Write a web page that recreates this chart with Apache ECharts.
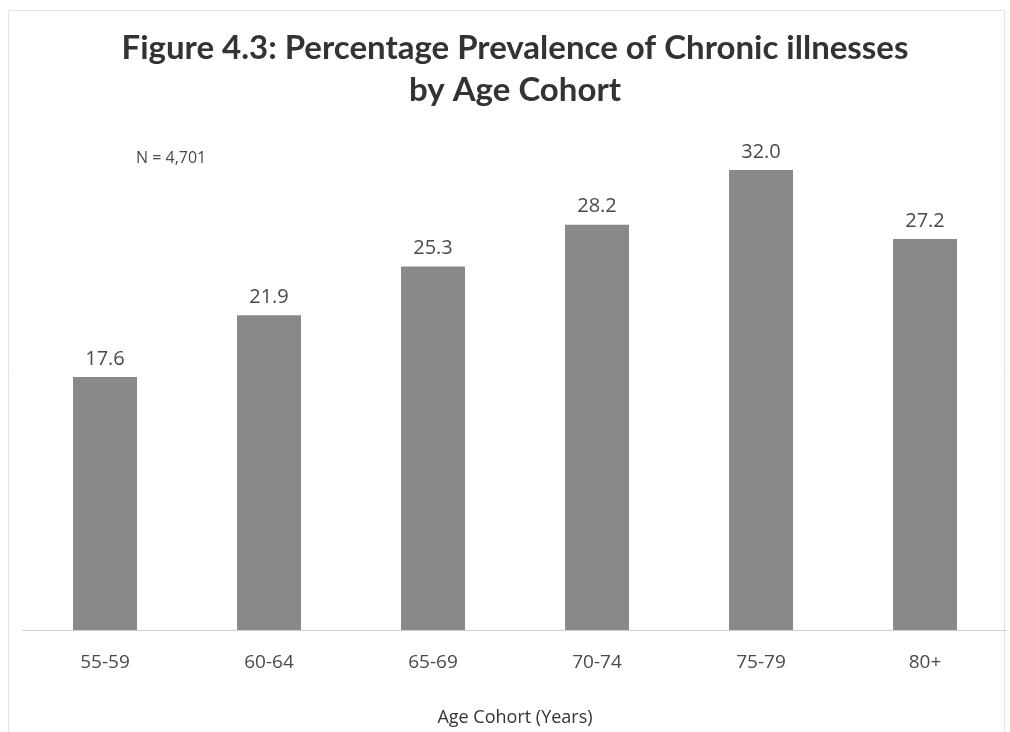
<!DOCTYPE html>
<html>
<head>
<meta charset="utf-8">
<script src="https://cdn.jsdelivr.net/npm/echarts@6/dist/echarts.min.js"></script>
<style>
  html, body { margin: 0; padding: 0; background: #fff; }
  #chart { width: 1010px; height: 732px; }
</style>
</head>
<body>
<div id="chart"></div>
<script>
// Age cohorts and prevalence (%) of chronic illnesses
const cohorts = ['55-59', '60-64', '65-69', '70-74', '75-79', '80+'];
const prevalence = [17.6, 21.9, 25.3, 28.2, 32.0, 27.2];
const sampleNote = 'N = 4,701';
const chartTitle = 'Figure 4.3: Percentage Prevalence of Chronic illnesses\nby Age Cohort';

const chart = echarts.init(document.getElementById('chart'));
chart.setOption({
  backgroundColor: '#ffffff',
  animation: false,
  graphic: [
    {
      type: 'rect',
      shape: { x: 8.5, y: 10.5, width: 996, height: 740 },
      style: { fill: 'none', stroke: '#e2e2e2', lineWidth: 1 },
      silent: true
    },
    {
      // two-line heading, centred over the plot
      type: 'text',
      x: 515,
      y: 27,
      style: {
        text: chartTitle,
        textAlign: 'center',
        textVerticalAlign: 'top',
        fontFamily: 'Lato',
        fontWeight: 'bold',
        fontSize: 33,
        lineHeight: 42,
        fill: '#333333'
      }
    },
    {
      type: 'text',
      left: 136,
      top: 150,
      style: {
        text: sampleNote,
        font: '16px "Open Sans"',
        fill: '#4a4a4a'
      }
    }
  ],
  grid: { left: 23, right: 3, top: 127, bottom: 97 },
  xAxis: {
    type: 'category',
    data: cohorts,
    name: 'Age Cohort (Years)',
    nameLocation: 'middle',
    nameGap: 79,
    nameTextStyle: { fontFamily: 'Open Sans', fontSize: 18, color: '#333333' },
    axisLine: { lineStyle: { color: '#c4c4c4', type: 'dotted', width: 1 } },
    axisTick: { show: false },
    axisLabel: { margin: 23, fontFamily: 'Open Sans', fontSize: 19, color: '#4a4a4a' }
  },
  yAxis: {
    type: 'value',
    min: 0,
    max: 35,
    show: false,
    splitLine: { show: false }
  },
  series: [{
    type: 'bar',
    data: prevalence,
    barWidth: 64,
    itemStyle: { color: '#898989' },
    label: {
      show: true,
      position: 'top',
      distance: 8,
      formatter: p => p.value.toFixed(1),
      fontFamily: 'Open Sans',
      fontSize: 20,
      color: '#4a4a4a'
    }
  }]
});
</script>
</body>
</html>
